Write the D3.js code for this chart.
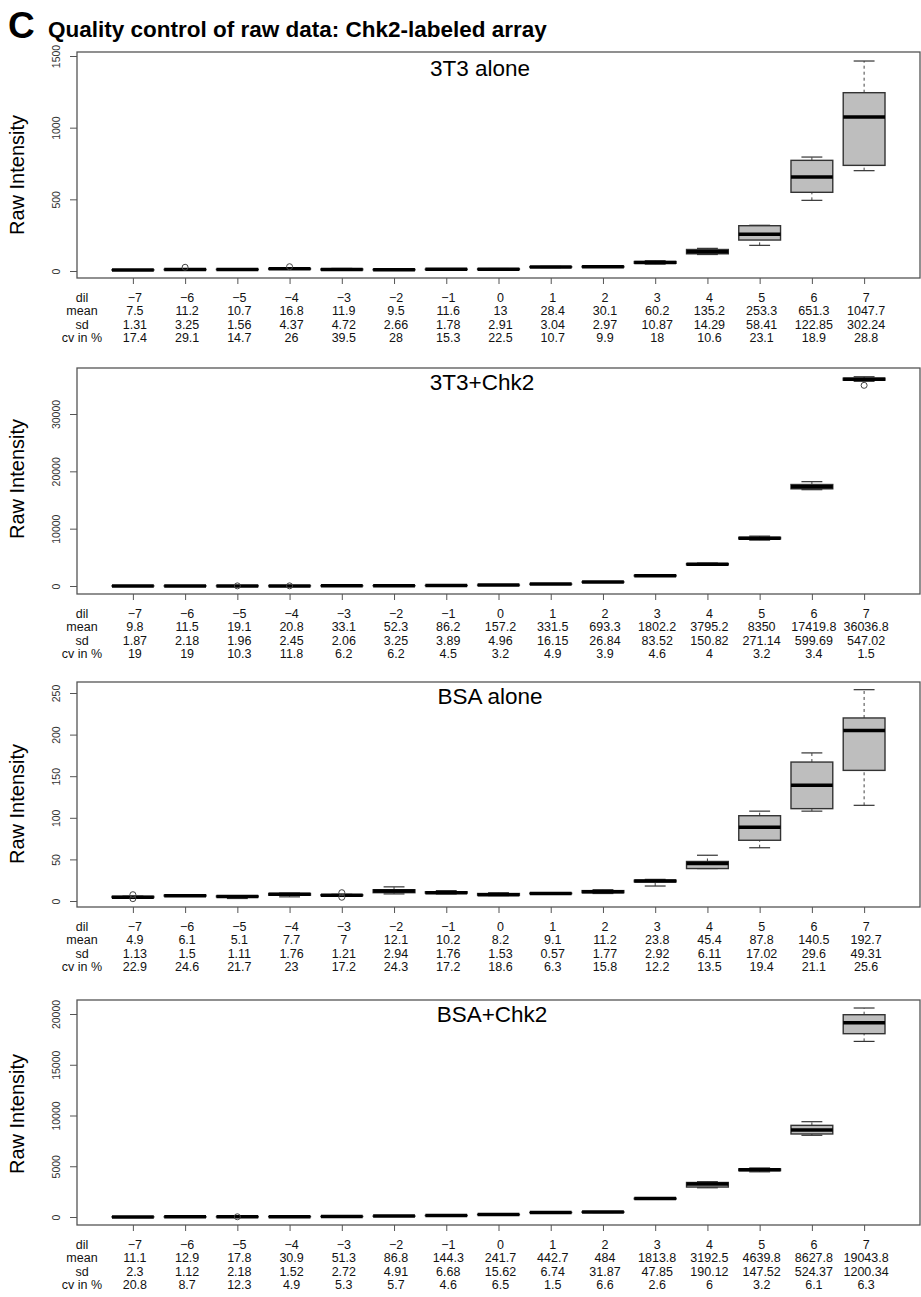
<!DOCTYPE html>
<html>
<head>
<meta charset="utf-8">
<script src="https://cdn.jsdelivr.net/npm/d3@7"></script>
<style>
  body { margin: 0; background: #fff; }
  svg { display: block; font-family: "Liberation Sans", Arial, sans-serif; }
</style>
</head>
<body>
<div id="vis"></div>
<script>
// dilution steps (x categories)
var dil = [-7, -6, -5, -4, -3, -2, -1, 0, 1, 2, 3, 4, 5, 6, 7];

// 3T3 alone
var t3AloneMean = ['7.5', '11.2', '10.7', '16.8', '11.9', '9.5', '11.6', '13', '28.4', '30.1', '60.2', '135.2', '253.3', '651.3', '1047.7'];
var t3AloneSd = ['1.31', '3.25', '1.56', '4.37', '4.72', '2.66', '1.78', '2.91', '3.04', '2.97', '10.87', '14.29', '58.41', '122.85', '302.24'];
var t3AloneCv = ['17.4', '29.1', '14.7', '26', '39.5', '28', '15.3', '22.5', '10.7', '9.9', '18', '10.6', '23.1', '18.9', '28.8'];
// [lower whisker, q1, median, q3, upper whisker]
var t3AloneBox = [
  [5.5, 6.5, 7.5, 8.5, 9.5], [8, 9, 10, 11.5, 13], [8.5, 9.5, 10.5, 12, 13], [12, 13, 15, 17, 19],
  [6, 8, 10, 14, 18], [6, 8, 9.5, 11, 13], [9, 10.5, 11.5, 13, 14], [9, 11, 13, 15, 17],
  [24, 27, 28.5, 30, 32], [26, 28, 30, 32, 34], [48, 54, 60, 66, 72], [115, 120, 135, 150, 158],
  [179, 216, 256, 316, 319], [493, 549, 656, 772, 795], [700, 737, 1075, 1244, 1465]
];
var t3AloneOut = [[-6, 26], [-4, 30]];

// 3T3 + Chk2
var t3ChkMean = ['9.8', '11.5', '19.1', '20.8', '33.1', '52.3', '86.2', '157.2', '331.5', '693.3', '1802.2', '3795.2', '8350', '17419.8', '36036.8'];
var t3ChkSd = ['1.87', '2.18', '1.96', '2.45', '2.06', '3.25', '3.89', '4.96', '16.15', '26.84', '83.52', '150.82', '271.14', '599.69', '547.02'];
var t3ChkCv = ['19', '19', '10.3', '11.8', '6.2', '6.2', '4.5', '3.2', '4.9', '3.9', '4.6', '4', '3.2', '3.4', '1.5'];
var t3ChkBox = [
  [7, 8.5, 10, 11, 12.5], [8, 10, 11.5, 13, 15], [17, 18, 19, 20, 21], [18, 19.5, 21, 22, 23],
  [30, 32, 33, 34.5, 36], [48, 50, 52, 55, 57], [81, 84, 86, 89, 92], [150, 154, 157, 160, 164],
  [310, 320, 332, 342, 355], [655, 675, 693, 710, 730], [1690, 1750, 1800, 1860, 1920], [3600, 3700, 3800, 3900, 4000],
  [8000, 8220, 8330, 8480, 8700], [16800, 16950, 17300, 17700, 18200], [35700, 35900, 36050, 36250, 36500]
];
var t3ChkOut = [[-5, 23], [-4, 26], [7, 35000]];

// BSA alone
var bsaAloneMean = ['4.9', '6.1', '5.1', '7.7', '7', '12.1', '10.2', '8.2', '9.1', '11.2', '23.8', '45.4', '87.8', '140.5', '192.7'];
var bsaAloneSd = ['1.13', '1.5', '1.11', '1.76', '1.21', '2.94', '1.76', '1.53', '0.57', '1.77', '2.92', '6.11', '17.02', '29.6', '49.31'];
var bsaAloneCv = ['22.9', '24.6', '21.7', '23', '17.2', '24.3', '17.2', '18.6', '6.3', '15.8', '12.2', '13.5', '19.4', '21.1', '25.6'];
var bsaAloneBox = [
  [4, 4.2, 4.6, 5.5, 5.8], [5.5, 6, 6.3, 7, 7.5], [3, 5, 5.5, 6, 6.5], [5, 7, 8, 9, 9.5],
  [6, 6.5, 7, 7.5, 8], [8.5, 10, 12, 13.5, 17], [8.5, 9.5, 10, 11, 12.5], [6.5, 7, 7.5, 9, 10],
  [8.5, 8.8, 9, 9.4, 9.8], [9, 10, 11, 12.5, 13.6], [18, 23, 24, 25, 26], [39, 39, 45, 47.5, 55],
  [64, 73, 88.5, 102.5, 108], [108, 111, 139, 167, 178], [115, 157, 205, 220, 254]
];
var bsaAloneOut = [[-7, 2.8], [-7, 7.6], [-3, 4.5], [-3, 10]];

// BSA + Chk2
var bsaChkMean = ['11.1', '12.9', '17.8', '30.9', '51.3', '86.8', '144.3', '241.7', '442.7', '484', '1813.8', '3192.5', '4639.8', '8627.8', '19043.8'];
var bsaChkSd = ['2.3', '1.12', '2.18', '1.52', '2.72', '4.91', '6.68', '15.62', '6.74', '31.87', '47.85', '190.12', '147.52', '524.37', '1200.34'];
var bsaChkCv = ['20.8', '8.7', '12.3', '4.9', '5.3', '5.7', '4.6', '6.5', '1.5', '6.6', '2.6', '6', '3.2', '6.1', '6.3'];
var bsaChkBox = [
  [8, 10, 11, 12.5, 14], [11.5, 12, 13, 14, 14.5], [15, 17, 18, 19, 20], [29, 30, 31, 32, 33],
  [48, 50, 51, 53, 55], [80, 84, 87, 90, 93], [136, 140, 144, 149, 152], [222, 232, 242, 252, 262],
  [434, 438, 443, 447, 451], [445, 465, 484, 505, 525], [1750, 1780, 1815, 1845, 1875], [2880, 2950, 3240, 3400, 3480],
  [4450, 4570, 4650, 4740, 4830], [8050, 8180, 8570, 9030, 9390], [17300, 18060, 19150, 19930, 20590]
];
var bsaChkOut = [[-5, 22]];

var rowNames = ['dil', 'mean', 'sd', 'cv in %'];

var width = 921;
var height = 1297;
var frameLeft = 77;
var frameRight = 920;

var panels = [
  { title: '3T3 alone', top: 52, bottom: 278, zeroY: 271, maxY: 56, tickMax: 1500, step: 500, titleX: 480, titleY: 76, labelY: 175,
    box: t3AloneBox, out: t3AloneOut, rows: [t3AloneMean, t3AloneSd, t3AloneCv] },
  { title: '3T3+Chk2', top: 368, bottom: 594, zeroY: 586, maxY: 414, tickMax: 30000, step: 10000, titleX: 482, titleY: 390, labelY: 479,
    box: t3ChkBox, out: t3ChkOut, rows: [t3ChkMean, t3ChkSd, t3ChkCv] },
  { title: 'BSA alone', top: 682, bottom: 907, zeroY: 901, maxY: 693, tickMax: 250, step: 50, titleX: 490, titleY: 704, labelY: 804,
    box: bsaAloneBox, out: bsaAloneOut, rows: [bsaAloneMean, bsaAloneSd, bsaAloneCv] },
  { title: 'BSA+Chk2', top: 1000, bottom: 1225, zeroY: 1217, maxY: 1014, tickMax: 20000, step: 5000, titleX: 492, titleY: 1022, labelY: 1114,
    box: bsaChkBox, out: bsaChkOut, rows: [bsaChkMean, bsaChkSd, bsaChkCv] }
];

var svg = d3.select('#vis')
  .append('svg')
  .attr('width', width)
  .attr('height', height);

svg.append('text')
  .attr('x', 8)
  .attr('y', 38)
  .attr('font-size', 37)
  .attr('font-weight', 'bold')
  .text('C');

svg.append('text')
  .attr('x', 48)
  .attr('y', 37)
  .attr('font-size', 22.5)
  .attr('font-weight', 'bold')
  .text('Quality control of raw data: Chk2-labeled array');

var x = d3.scaleLinear().domain([-8.07, 8.07]).range([frameLeft, frameRight]);
var halfW = (x(1) - x(0)) * 0.4;

function drawPanel(p) {
  var y = d3.scaleLinear().domain([0, p.tickMax]).range([p.zeroY, p.maxY]);
  var g = svg.append('g');

  // boxes
  var boxes = g.selectAll('.bx')
    .data(p.box)
    .enter().append('g')
    .attr('class', 'bx')
    .attr('transform', function (d, i) { return 'translate(' + x(dil[i]) + ',0)'; });

  boxes.append('line')
    .attr('y1', function (d) { return y(d[0]); })
    .attr('y2', function (d) { return y(d[1]); })
    .attr('stroke', '#444').attr('stroke-dasharray', '3,3');
  boxes.append('line')
    .attr('y1', function (d) { return y(d[3]); })
    .attr('y2', function (d) { return y(d[4]); })
    .attr('stroke', '#444').attr('stroke-dasharray', '3,3');
  [0, 4].forEach(function (k) {
    boxes.append('line')
      .attr('x1', -halfW / 2).attr('x2', halfW / 2)
      .attr('y1', function (d) { return y(d[k]); })
      .attr('y2', function (d) { return y(d[k]); })
      .attr('stroke', '#333').attr('stroke-width', 1.2);
  });
  boxes.append('rect')
    .attr('x', -halfW)
    .attr('width', halfW * 2)
    .attr('y', function (d) { return y(d[3]); })
    .attr('height', function (d) { return Math.max(0, y(d[1]) - y(d[3])); })
    .attr('fill', '#bebebe')
    .attr('stroke', '#333')
    .attr('stroke-width', 1.4);
  boxes.append('line')
    .attr('x1', -halfW).attr('x2', halfW)
    .attr('y1', function (d) { return y(d[2]); })
    .attr('y2', function (d) { return y(d[2]); })
    .attr('stroke', '#000').attr('stroke-width', 3.5);

  g.selectAll('.out')
    .data(p.out)
    .enter().append('circle')
    .attr('cx', function (d) { return x(d[0]); })
    .attr('cy', function (d) { return y(d[1]); })
    .attr('r', 3)
    .attr('fill', 'none')
    .attr('stroke', '#444');

  // frame
  g.append('rect')
    .attr('x', frameLeft)
    .attr('y', p.top)
    .attr('width', frameRight - frameLeft)
    .attr('height', p.bottom - p.top)
    .attr('fill', 'none')
    .attr('stroke', '#555')
    .attr('stroke-width', 1.3);

  // y axis
  var ya = g.append('g')
    .attr('transform', 'translate(' + frameLeft + ',0)')
    .call(d3.axisLeft(y).tickValues(d3.range(0, p.tickMax + 1, p.step)).tickSize(7).tickFormat(d3.format('d')));
  ya.select('.domain').remove();
  ya.selectAll('line').attr('stroke', '#555');
  ya.selectAll('text')
    .attr('transform', 'rotate(-90)')
    .attr('x', 0)
    .attr('y', -17)
    .attr('dy', 0)
    .attr('text-anchor', 'middle')
    .attr('font-size', 10.5)
    .attr('font-family', '"Liberation Sans", Arial, sans-serif')
    .attr('fill', '#333');

  // x ticks
  var xa = g.append('g')
    .attr('transform', 'translate(0,' + p.bottom + ')')
    .call(d3.axisBottom(x).tickValues(dil).tickSize(6).tickFormat(''));
  xa.select('.domain').remove();
  xa.selectAll('line').attr('stroke', '#555');

  // table under the axis
  var rowY = function (r) { return p.bottom + 24 + r * 13.4; };
  g.selectAll('.rowname')
    .data(rowNames)
    .enter().append('text')
    .attr('x', 82)
    .attr('y', function (d, r) { return rowY(r); })
    .attr('text-anchor', 'middle')
    .attr('font-size', 12.5)
    .attr('fill', '#111')
    .text(function (d) { return d; });

  var cols = [dil.map(function (d) { return String(d).replace('-', '\u2212'); })].concat(p.rows);
  cols.forEach(function (row, r) {
    g.selectAll('.cell' + r)
      .data(row)
      .enter().append('text')
      .attr('x', function (d, i) { return x(dil[i]) + 2; })
      .attr('y', rowY(r))
      .attr('text-anchor', 'middle')
      .attr('font-size', 12.5)
      .attr('fill', '#111')
      .text(function (d) { return d; });
  });

  // titles
  g.append('text')
    .attr('x', p.titleX)
    .attr('y', p.titleY)
    .attr('text-anchor', 'middle')
    .attr('font-size', 22.5)
    .text(p.title);

  g.append('text')
    .attr('transform', 'translate(24,' + p.labelY + ') rotate(-90)')
    .attr('text-anchor', 'middle')
    .attr('font-size', 20)
    .text('Raw Intensity');
}

panels.forEach(drawPanel);
</script>
</body>
</html>
